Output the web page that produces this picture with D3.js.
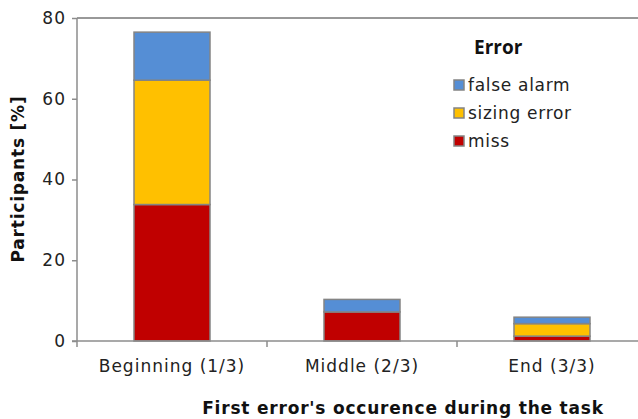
<!DOCTYPE html>
<html lang="en">
<head>
  <meta charset="UTF-8">
  <title>First error's occurence</title>
  <script src="https://d3js.org/d3.v7.min.js"></script>
  <style>
    body { margin: 0; background: #fff; }
    text { font-family: 'DejaVu Sans', Verdana, sans-serif; fill: #222; }
    .tick text { font-size: 17px; letter-spacing: 1px; }
    .title { font-size: 17px; font-weight: bold; fill: #111; letter-spacing: 0.8px; }
    .legend text { font-size: 17px; letter-spacing: 0.7px; }
  </style>
</head>
<body>
<div id="chart"></div>
<script>
  const categories = ["Beginning (1/3)", "Middle (2/3)", "End (3/3)"];
  const series = ["miss", "sizing error", "false alarm"];
  const miss = [33.8, 7.2, 1.2];
  const sizingError = [30.8, 0, 3.1];
  const falseAlarm = [11.9, 3.1, 1.6];
  const yTicks = [0, 20, 40, 60, 80];

  const width = 638, height = 419;
  const margin = {top: 18, right: -9, bottom: 78, left: 77};

  const colors = {"miss": "#c00000", "sizing error": "#ffc000", "false alarm": "#558ed5"};

  const table = categories.map((c, i) => ({
    category: c, "miss": miss[i], "sizing error": sizingError[i], "false alarm": falseAlarm[i]
  }));
  const stacked = d3.stack().keys(series)(table);

  const svg = d3.select("#chart").append("svg")
    .attr("width", width).attr("height", height);

  const x = d3.scaleBand()
    .domain(categories)
    .range([margin.left, width - margin.right])
    .paddingInner(0).paddingOuter(0);

  const y = d3.scaleLinear()
    .domain([0, 80])
    .range([height - margin.bottom, margin.top]);

  const barW = x.bandwidth() * 0.4;

  // top border of plot area
  svg.append("line")
    .attr("x1", margin.left).attr("x2", width)
    .attr("y1", y(80)).attr("y2", y(80))
    .attr("stroke", "#333").attr("stroke-width", 1);

  // bars
  svg.append("g")
    .selectAll("g")
    .data(stacked)
    .join("g")
      .attr("fill", d => colors[d.key])
    .selectAll("rect")
    .data(d => d.filter(v => v[1] - v[0] > 0))
    .join("rect")
      .attr("x", d => x(d.data.category) + (x.bandwidth() - barW) / 2)
      .attr("y", d => y(d[1]))
      .attr("width", barW)
      .attr("height", d => y(d[0]) - y(d[1]))
      .attr("stroke", "#848484")
      .attr("stroke-width", 1.5);

  // y axis
  svg.append("g")
    .attr("transform", `translate(${margin.left},0)`)
    .call(d3.axisLeft(y).tickValues(yTicks).tickSize(5).tickPadding(6))
    .call(g => g.selectAll(".domain, line").attr("stroke", "#8c8c8c").attr("stroke-width", 1.5))
    .call(g => g.select(".domain").attr("d", `M0,${y(80)}V${y(0)}`));

  // x axis
  const xAxis = svg.append("g")
    .attr("transform", `translate(0,${y(0)})`)
    .call(d3.axisBottom(x).tickSize(0).tickPadding(19));
  xAxis.select(".domain").attr("d", `M${margin.left - 5},0H${width}`)
    .attr("stroke", "#8c8c8c").attr("stroke-width", 1.5);
  xAxis.selectAll(".sep")
    .data(categories)
    .join("line")
      .attr("class", "sep")
      .attr("x1", d => x(d)).attr("x2", d => x(d))
      .attr("y1", 0).attr("y2", 6)
      .attr("stroke", "#8c8c8c").attr("stroke-width", 1.5);

  // axis titles
  svg.append("text")
    .attr("class", "title")
    .attr("x", 403).attr("y", 414)
    .attr("text-anchor", "middle")
    .text("First error's occurence during the task");

  svg.append("text")
    .attr("class", "title")
    .attr("transform", `translate(24,179) rotate(-90)`)
    .attr("text-anchor", "middle")
    .text("Participants [%]");

  // legend
  const legend = svg.append("g").attr("class", "legend")
    .attr("transform", "translate(453,0)");
  legend.append("text")
    .attr("x", 21).attr("y", 54)
    .style("font-family", "'Open Sans', sans-serif")
    .style("font-weight", "bold").style("font-size", "19px").style("fill", "#111")
    .style("letter-spacing", "0px")
    .text("Error");
  series.slice().reverse().forEach((s, i) => {
    const cy = 85 + i * 28;
    legend.append("rect")
      .attr("x", 1).attr("y", cy - 5)
      .attr("width", 10).attr("height", 10)
      .attr("fill", colors[s]).attr("stroke", "#848484").attr("stroke-width", 1.5);
    legend.append("text")
      .attr("x", 15).attr("y", cy + 6)
      .text(s);
  });
</script>
</body>
</html>
